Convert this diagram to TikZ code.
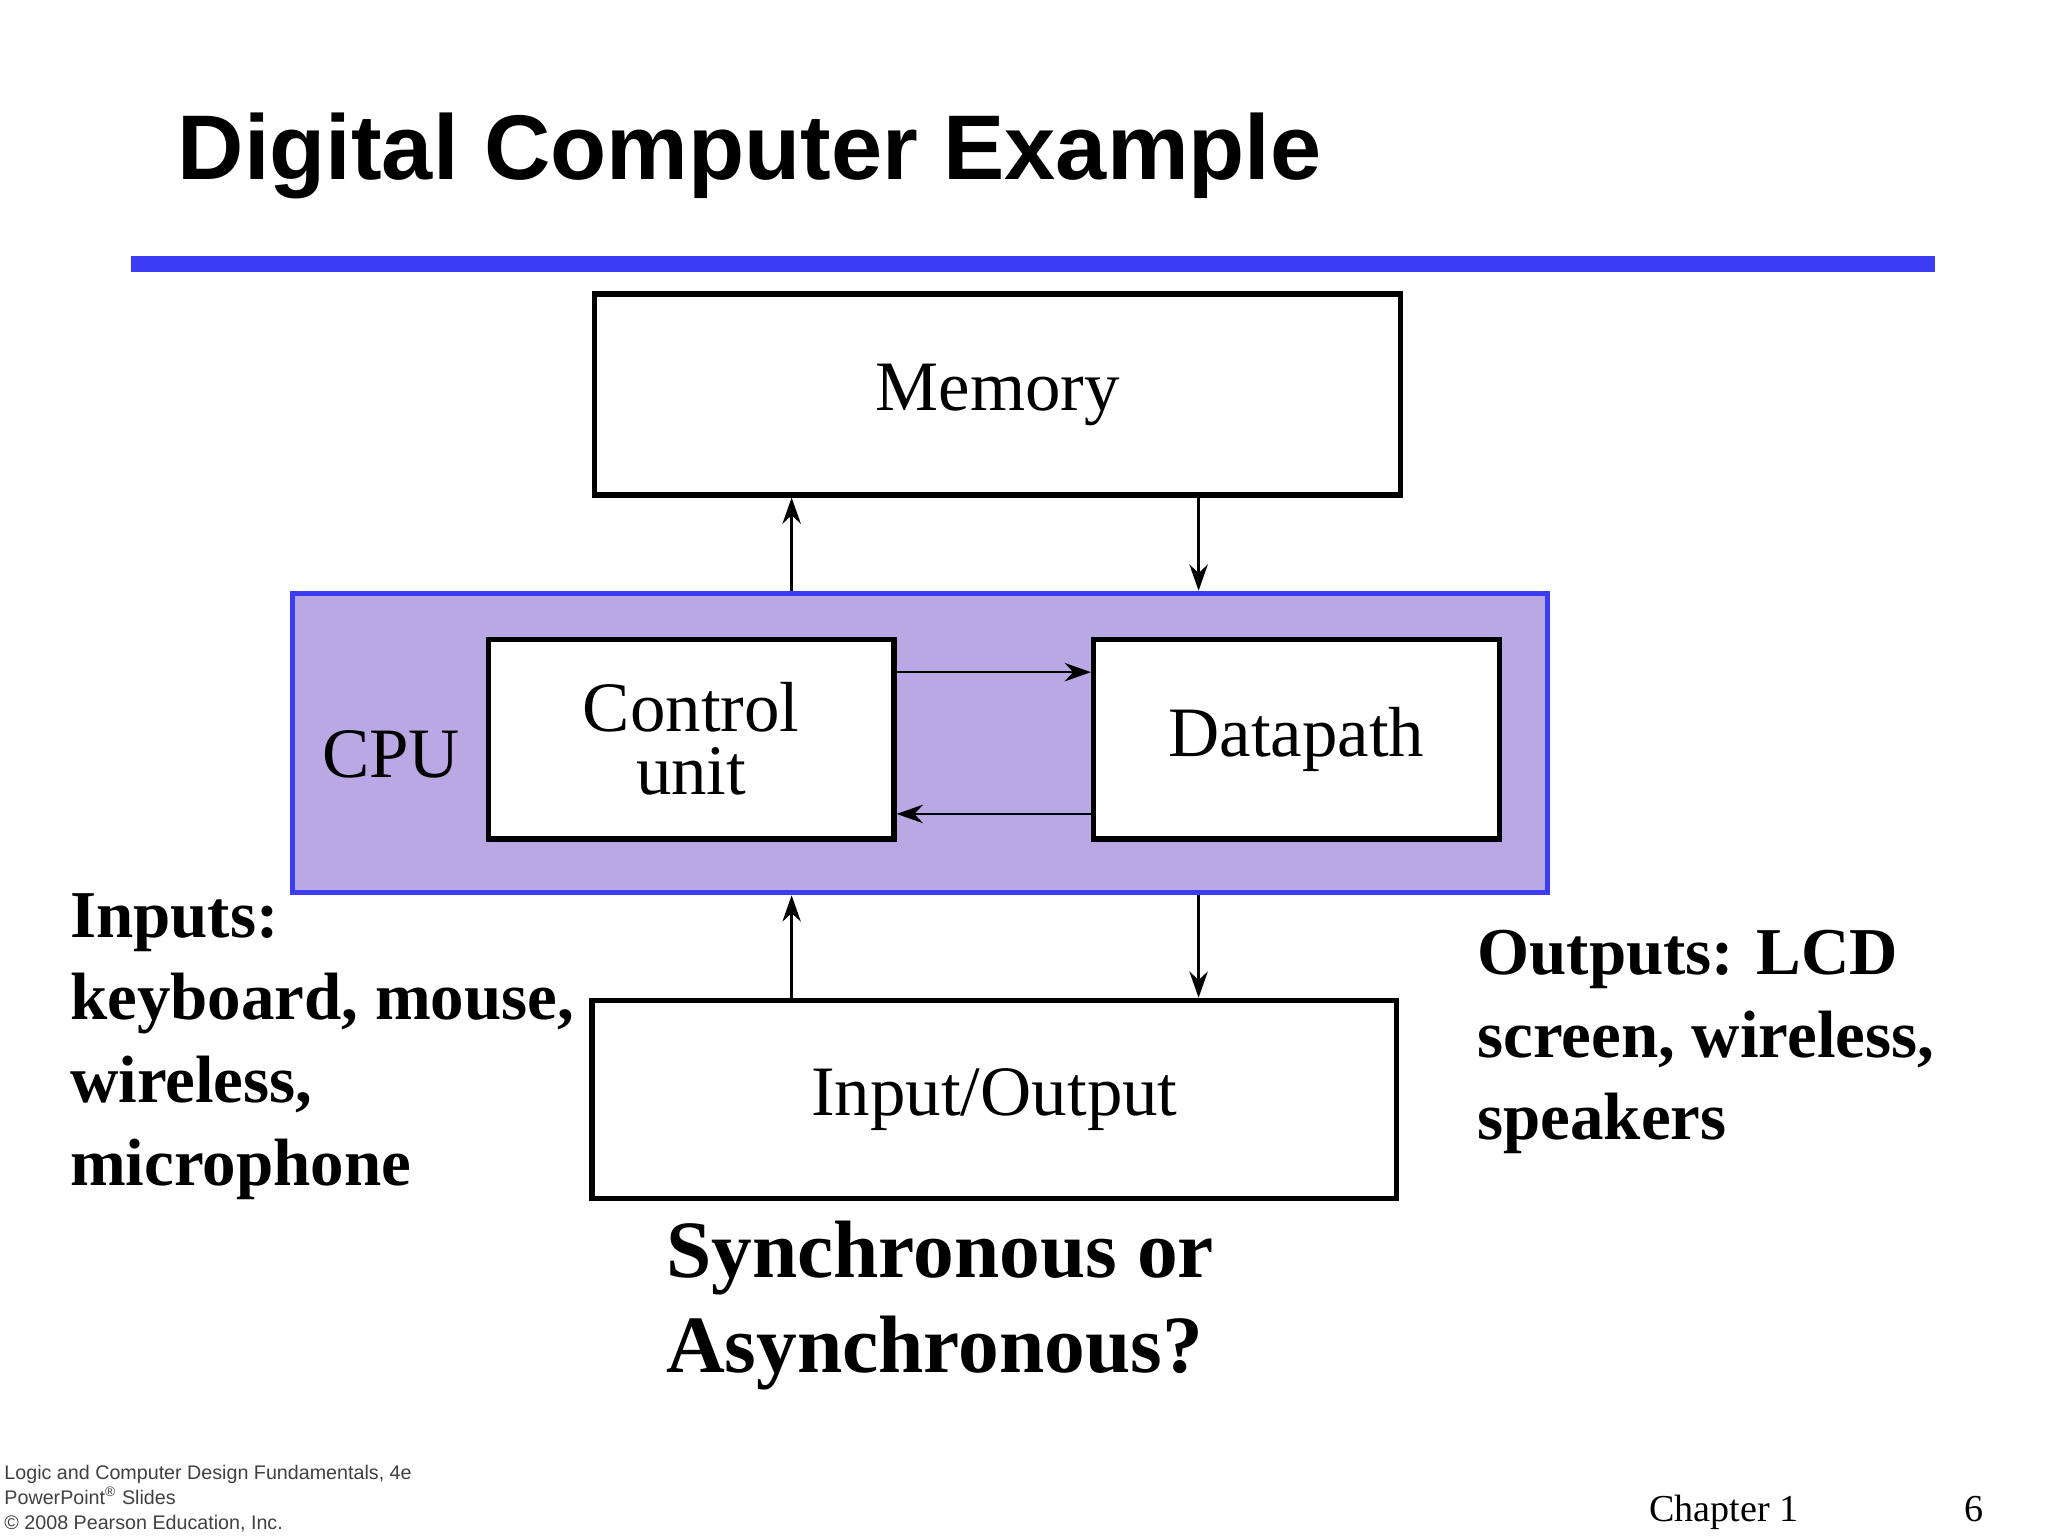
\documentclass[tikz,border=0pt]{standalone}
\usepackage{fontspec}
\setmainfont{Liberation Serif}
\newfontfamily\sansf{Liberation Sans}
\usetikzlibrary{arrows.meta}
\definecolor{lav}{RGB}{185,168,228}
\definecolor{bl}{RGB}{60,60,245}
\tikzset{x=0.5pt,y=-0.5pt,
 blk/.style={draw,line width=2pt,fill=white,inner sep=0},
 arr/.style={line width=1pt,-{Stealth[length=10pt,width=7pt]}},
 big/.style={align=left,anchor=north west,inner sep=0}}
\begin{document}
\begin{tikzpicture}
\useasboundingbox[fill=white] (0,0) rectangle (1560,1170);
\node[anchor=base west,inner sep=0,font=\sansf\bfseries\fontsize{35}{40}\selectfont] (title) at (135,137) {Digital Computer Example};
\fill[bl] (100,195) rectangle (1474,207);
\node[blk,minimum width=307pt,minimum height=76.5pt,font=\fontsize{27}{32}\selectfont] (mem) at (760,300.5) {Memory};
\node[draw=bl,line width=2pt,fill=lav,minimum width=478pt,minimum height=114pt,inner sep=0] (cpu) at (701,566) {};
\node[font=\fontsize{27}{32}\selectfont] (cpul) at (298,575) {CPU};
\node[blk,minimum width=154.5pt,minimum height=76pt,align=center,font=\fontsize{27}{24}\selectfont] (cu) at (526.5,563) {Control\\unit};
\node[blk,minimum width=154.5pt,minimum height=76pt,font=\fontsize{27}{32}\selectfont] (dp) at (987.5,563) {Datapath};
\node[blk,minimum width=306.5pt,minimum height=75.5pt,font=\fontsize{27}{32}\selectfont] (io) at (757.5,837.5) {Input/Output};
\draw[arr] (cpu.north -| 603,0) -- (mem.south -| 603,0);
\draw[arr] (mem.south -| 913,0) -- (cpu.north -| 913,0);
\draw[arr] (io.north -| 603,0) -- (cpu.south -| 603,0);
\draw[arr] (cpu.south -| 913,0) -- (io.north -| 913,0);
\draw[arr] (cu.east |- 0,512) -- (dp.west |- 0,512);
\draw[arr] (dp.west |- 0,620) -- (cu.east |- 0,620);
\node[big,font=\bfseries\fontsize{25.5}{31.5}\selectfont] (inp) at (53,680) {Inputs:\\keyboard, mouse,\\wireless,\\microphone};
\node[big,font=\bfseries\fontsize{25.5}{31.5}\selectfont] (outp) at (1125,708) {Outputs: LCD\\screen, wireless,\\speakers};
\node[big,font=\bfseries\fontsize{31}{36}\selectfont] (sync) at (507,930) {Synchronous or\\Asynchronous?};
\node[anchor=north west,inner sep=0,align=left,font=\sansf\fontsize{7.5}{9.5}\selectfont,text=black!75] (foot) at (3,1116) {Logic and Computer Design Fundamentals, 4e\\PowerPoint\textsuperscript{\textregistered} Slides\\\textcopyright\ 2008 Pearson Education, Inc.};
\node[anchor=base west,inner sep=0,font=\fontsize{14.5}{17}\selectfont] (ch) at (1256,1159) {Chapter 1};
\node[anchor=base west,inner sep=0,font=\fontsize{14.5}{17}\selectfont] (pg) at (1496,1159) {6};
\end{tikzpicture}
\end{document}
